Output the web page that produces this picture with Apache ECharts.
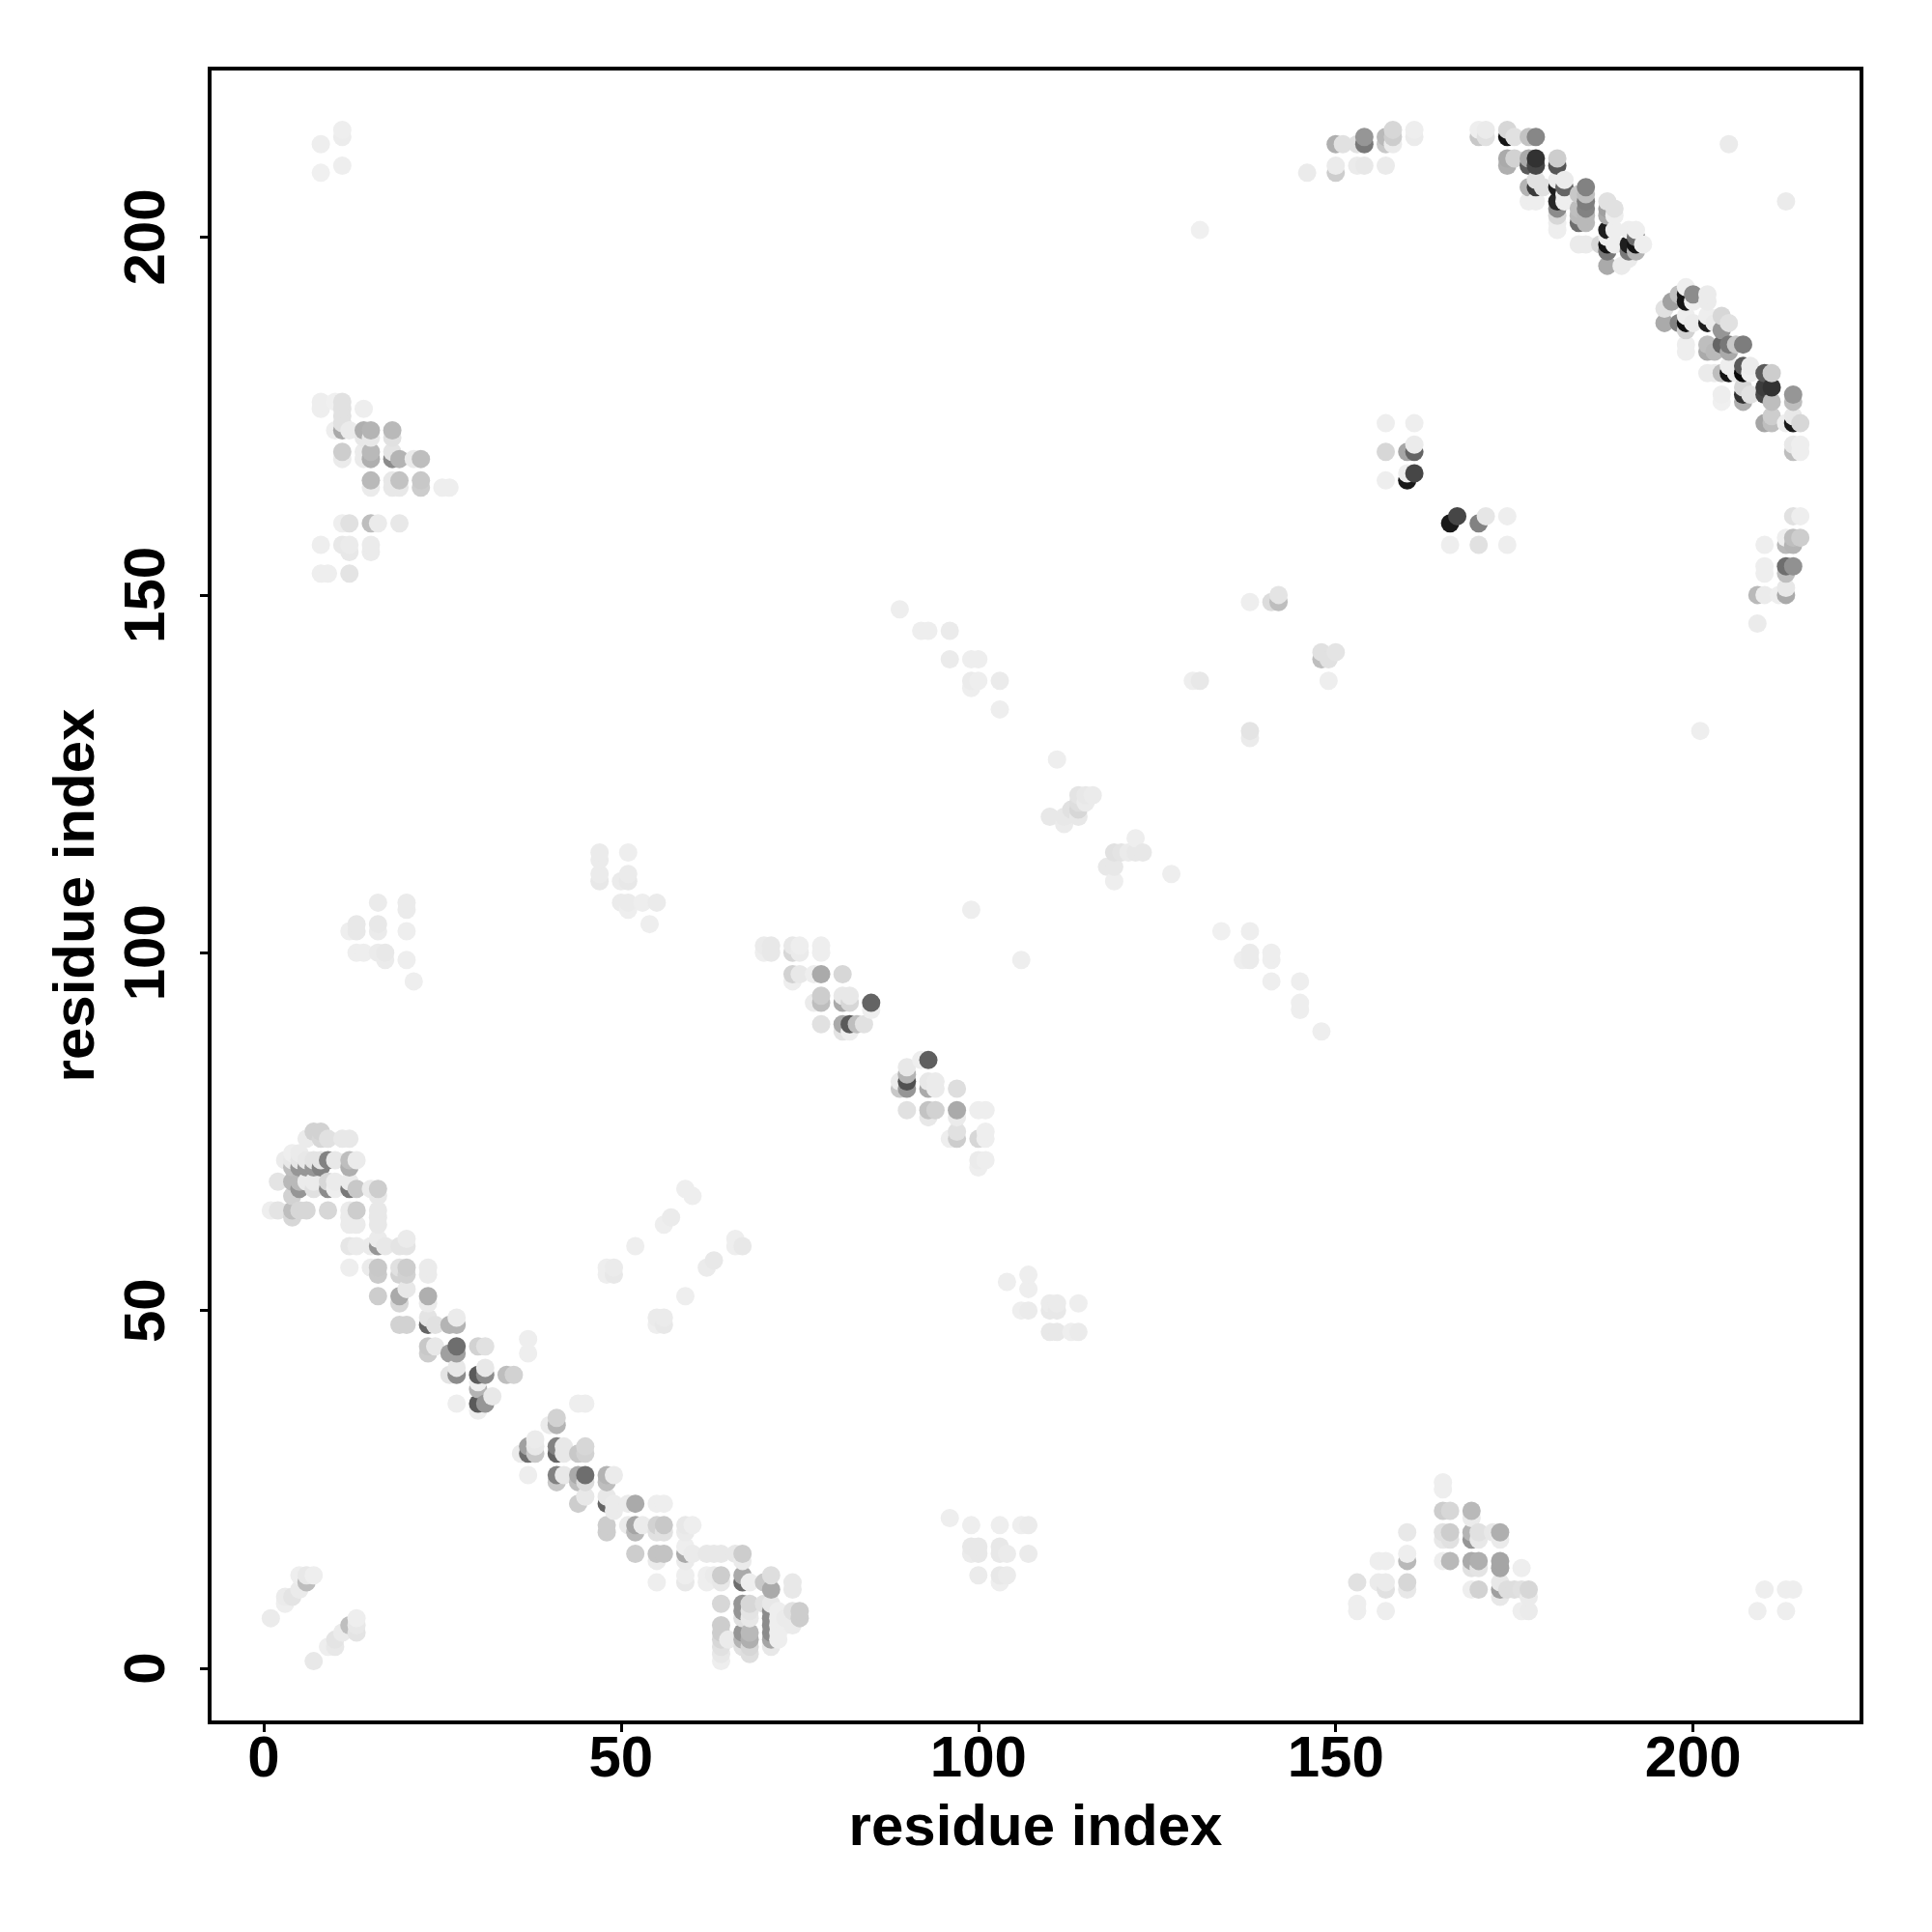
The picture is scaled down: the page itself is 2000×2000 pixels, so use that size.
<!DOCTYPE html>
<html><head><meta charset="utf-8">
<style>html,body{margin:0;padding:0;background:#fff}#c{width:2000px;height:2000px}</style>
<script src="https://cdn.jsdelivr.net/npm/echarts@6/dist/echarts.min.js"></script>
</head><body><div id="c"></div>
<script>
const tickValues=[0,50,100,150,200];
const axisTitle='residue index';
// each entry: residue x, residue y, grey level
const cornerLow=[[1,7,235],[3,9,238],[3,10,235],[4,10,228],[5,11,235],[6,12,190],[5,13,238],[6,13,232],[7,13,238],
[7,1,232],[9,3,238],[10,3,232],[10,4,228],[11,5,235],[13,5,228],[12,6,190],[13,6,232],[13,7,238]];
const diagA=[[7,75,210],[8,75,210],[6,74,235],[8,74,215],[9,74,225],[11,74,232],[12,74,232],
[4,70,190],[5,70,150],[6,70,150],[7,70,150],[8,70,130],[12,70,175],
[3,71,235],[4,72,238],[5,72,235],[4,71,232],[5,71,230],[6,71,232],[7,71,228],[8,71,228],[9,71,130],[10,71,232],[12,71,190],[13,71,235],
[2,68,228],[4,68,185],[5,68,185],[6,68,235],[7,68,235],[9,68,215],[10,68,235],[12,68,235],
[4,66,210],[5,67,150],[7,67,225],[9,67,140],[10,67,238],[12,67,120],[13,67,200],[15,67,235],[16,67,205],[16,66,232],
[1,64,238],[2,64,228],[4,64,190],[4,63,215],[5,64,215],[6,64,215],[9,64,215],[12,64,235],[13,64,205],[16,64,232],
[12,63,235],[13,62,235],[12,62,235],[16,63,232],[16,62,232],
[16,60,235],[20,60,235],[12,59,230],[13,59,235],[15,59,235],[16,59,150],[17,59,232],[19,59,228],[20,59,228],
[12,56,238],[15,56,235],[16,56,200],[19,56,225],[20,56,205],[23,56,235],[16,55,202],[19,55,210],[20,55,210],[23,55,235],
[16,52,205],[19,52,170],[19,51,215],[20,53,232],[23,52,175],[23,51,235],
[19,48,210],[20,48,210],[23,48,100],[23,49,228],[24,48,225],[26,48,180],[27,49,235],[27,48,180],
[23,45,200],[24,45,232],[26,44,160],[27,44,160],[27,45,110],[30,45,210],[31,45,225],[37,46,238],[37,44,238],[23,44,205],
[26,41,228],[27,41,140],[27,42,232],[30,41,90],[31,41,140],[31,42,232],[30,40,238],[34,41,190],[35,41,210],
[27,37,238],[30,39,180],[30,37,90],[31,37,150],[32,38,232],[30,36,238]];
const diagB=[[44,37,238],[45,37,238],[41,35,210],[40,34,235],[41,34,180],[38,32,235],
[37,31,160],[37,30,110],[36,30,235],[38,30,200],[38,31,232],[41,30,100],[41,31,130],[42,31,232],[42,30,232],[44,30,200],[45,31,215],[45,30,210],
[41,26,200],[41,27,130],[42,27,232],[37,27,238],[44,26,190],[44,27,170],[45,26,220],[45,27,110],[48,26,190],[48,27,180],[49,27,235],
[44,23,205],[45,24,232],[48,23,100],[48,24,232],[49,23,235],[49,22,235],[51,23,235],[52,23,170],[55,23,238],[56,23,238],
[48,20,205],[48,19,205],[51,20,235],[52,19,185],[52,20,165],[53,20,235],[55,20,210],[55,19,225],[56,19,225],[56,20,200],[59,20,232],[60,20,238],[59,19,235],
[52,16,205],[55,15,235],[55,16,195],[56,16,195],[59,15,235],[59,16,170],[60,16,235],[59,17,238],[62,16,232],[63,16,232],[64,16,232],[66,16,232],[67,15,235],[67,16,205],
[55,12,238],[59,13,238],[59,12,232],[62,13,238],[62,12,238],[63,13,235],[64,13,205],[64,12,232],[67,13,170],[67,12,110],[68,12,238],[70,12,200],[71,11,170],[71,13,222],[74,12,232],[74,11,232]];
const tail=[[64,9,215],[67,9,150],[67,8,150],[67,7,225],[68,9,215],[67,5,150],[67,4,180],[68,8,228],[68,5,185],[68,4,175],[68,7,232],[68,3,215],[68,2,222],
[64,6,205],[64,5,205],[64,4,215],[65,4,235],[64,3,225],[64,2,232],[64,1,238],[67,3,225],
[71,9,232],[71,8,140],[71,7,140],[71,6,140],[71,5,140],[71,4,165],[70,9,225],[71,3,232],[72,8,238],[72,7,238],[72,6,238],[72,5,238],[72,4,238],
[73,6,238],[73,7,235],[74,8,225],[74,6,235],[75,8,205],[75,7,205]];
const midLow=[[70,101,235],[71,101,232],[74,101,232],[75,101,238],[78,101,238],[70,100,238],[71,100,232],[74,100,215],[75,100,235],[78,100,238],
[74,96,238],[74,97,210],[75,97,232],[77,97,238],[78,97,170],[81,97,215],
[78,94,205],[77,93,235],[78,93,190],[81,93,170],[81,94,232],[82,93,215],[82,94,232],[85,92,238],[85,93,100],
[78,90,225],[81,89,228],[82,89,238],[81,90,170],[82,90,90],[83,90,190],[84,90,225],
[92,85,238],[93,85,95],[90,84,232],[90,83,180],[89,82,235],[89,81,200],[90,81,150],[90,82,80],[93,81,170],[93,82,232],[94,82,235],[94,81,235],[97,81,222],
[90,78,225],[93,77,232],[93,78,195],[94,78,210],[97,77,235],[97,78,170],[100,78,238],[101,78,238],
[97,75,225],[96,74,238],[97,74,205],[100,74,215],[101,74,238],[101,75,238],
[100,70,238],[100,71,235],[101,71,238]];
const leftTop=[[8,213,238],[11,215,238],[11,214,236],[8,209,240],[11,210,238],
[8,177,238],[10,177,240],[8,176,238],[11,177,225],[11,176,225],[11,175,225],[11,174,225],[14,176,238],
[11,173,170],[10,173,238],[12,173,235],[14,172,232],[15,172,232],[14,173,175],[15,173,180],[18,172,225],[18,173,185],
[11,169,235],[11,170,205],[14,169,235],[14,170,235],[15,169,175],[15,170,185],[18,170,228],[18,169,140],[19,169,180],[21,169,235],[22,169,190],
[15,165,235],[15,166,185],[18,165,232],[18,166,232],[19,165,232],[19,166,195],[22,165,205],[22,166,200],[25,165,238],[26,165,238],
[11,160,238],[12,160,225],[15,160,190],[16,160,235],[19,160,232],
[8,157,238],[11,157,232],[12,157,235],[12,156,232],[15,157,235],[15,156,235],
[8,153,238],[9,153,238],[12,153,228]];
const faintA=[[47,114,235],[47,113,235],[47,111,235],[47,110,232],[50,110,235],[51,111,235],[51,110,232],[51,114,238],[50,107,235],[51,107,235],[51,106,238],[53,107,238],[55,107,235],[54,104,238],
[12,103,238],[13,104,232],[13,103,232],[16,107,235],[16,104,232],[16,103,235],[16,100,235],[17,100,232],[13,100,238],[14,100,238],[17,99,235],[20,107,235],[20,106,235],[20,103,238],[20,99,238],[21,96,238],
[96,21,238],[99,20,238],[103,20,238],[106,20,238],[107,20,235],[99,17,232],[100,17,232],[103,17,232],[100,16,232],[103,16,232],[99,16,235],[104,16,235],[107,16,235],[100,13,235],[103,13,232],[104,13,235],[103,12,238],
[48,55,238],[49,56,235],[49,55,232],[48,56,238],[52,59,238],[56,62,238],[57,63,235],[59,67,238],[60,66,238],[55,49,235],[55,48,238],[56,48,232],[56,49,235],[59,52,238],[62,56,235],[63,57,232],[66,60,238],[66,59,238],[67,59,232],
[104,54,238],[107,55,238],[107,53,238],[106,50,238],[107,50,235],[110,51,235],[111,51,235],[110,50,232],[111,50,232],[114,51,238],[110,47,232],[111,47,232],[113,47,238],[114,47,235]];
const lowRight=[[165,26,238],[165,25,238],[165,22,205],[166,22,215],[169,21,235],[169,22,185],
[160,19,232],[165,18,232],[165,19,225],[166,18,225],[166,19,205],[169,18,150],[169,19,180],[170,18,232],[170,19,225],[172,19,232],[173,18,235],[173,19,175],
[160,15,185],[160,16,238],[156,15,238],[157,15,238],[165,15,238],[166,15,185],[169,14,225],[169,15,170],[170,14,228],[170,15,175],[173,14,165],[173,15,165],[176,14,238],
[153,12,225],[156,12,235],[157,12,235],[157,11,225],[160,11,232],[160,12,215],[169,11,238],[170,11,210],[173,11,160],[173,12,232],[174,11,222],[175,11,222],[176,11,225],[177,11,215],[173,10,232],[177,10,235],
[153,9,238],[153,8,238],[157,8,238],[176,8,238],[177,8,235],[210,11,238],[213,11,238],[214,11,238],[209,8,238],[213,8,238]];
const centre=[[89,148,238],[92,145,238],[93,145,238],[96,145,235],[96,141,235],[99,141,238],[100,141,238],[99,138,235],[100,138,238],[99,137,238],[103,138,235],[103,134,238],
[130,138,238],[131,138,232],[138,131,228],[138,130,235],[138,149,238],[141,149,220],[142,149,190],[142,150,228],[148,141,190],[148,142,225],[149,141,225],[150,142,228],[149,138,238],
[111,127,238],[110,119,232],[112,119,232],[112,118,235],[113,120,225],[114,122,228],[114,121,222],[114,120,215],[114,119,232],[115,122,232],[115,121,235],[116,122,235],
[118,112,232],[119,114,225],[119,112,232],[119,110,238],[120,114,228],[121,114,235],[122,116,238],[122,114,232],[123,114,232],[127,111,238],
[99,106,238],[106,99,238],[134,103,240],[138,103,238],[138,100,235],[137,99,238],[138,99,235],[141,100,238],[141,99,238],[141,96,238],[145,96,238],[145,93,238],[145,92,238],[148,89,238],
[205,213,235],[213,205,235],[201,131,238],[131,201,240]];
const arcTop=[[146,209,235],[150,209,205],[150,210,235],[150,213,175],[151,213,225],[153,213,225],[153,210,235],[154,210,232],[154,213,120],[154,214,150],[157,210,235],[157,214,185],[157,213,200],[158,215,215],[158,214,205],[158,213,235],[161,214,235],[161,215,238]];
const arcA=[[170,214,200],[171,214,225],[170,215,238],[171,215,235],[174,215,215],[174,214,20],[175,214,225],[177,214,195],[178,214,135],
[174,210,175],[174,211,170],[175,211,210],[177,210,90],[177,211,170],[178,210,70],[178,211,50],[181,210,85],[181,211,205],
[177,207,180],[178,207,60],[178,208,225],[179,207,225],[177,205,238],[178,205,238],
[181,207,30],[181,208,235],[182,207,100],[182,208,235],[181,205,40],[181,204,140],[182,205,238],[182,206,238],[181,203,215],[181,202,238],[181,201,238],
[184,206,200],[184,204,190],[184,203,185],[184,202,110],[185,202,185],[185,203,185],[185,204,130],[185,205,125],[185,206,190],[185,207,130],
[188,204,160],[188,203,170],[188,201,30],[188,205,225],[189,204,225],[189,203,238],[189,201,238],
[184,199,235],[185,199,235],[187,199,215],[188,198,120],[188,199,20],[188,200,238],[189,199,238],[188,196,170],[190,196,235],[191,197,235],
[191,198,120],[191,199,30],[192,198,180],[192,200,110],[192,199,20],[191,201,238],[192,201,238],[193,199,238]];
const arcB=[[196,190,225],[197,191,160],[198,192,190],[199,191,20],[199,192,20],[199,193,238],[200,191,238],[200,192,140],[202,192,235],[202,191,235],
[196,188,170],[198,188,130],[199,188,15],[199,189,238],[200,188,235],[199,187,210],[202,188,30],[202,189,238],[203,188,235],[204,187,150],[204,189,215],[205,188,225],
[199,185,238],[199,184,238],[202,184,170],[202,185,190],[203,184,185],[204,185,100],[205,184,170],[205,185,120],[206,185,200],[207,185,125],
[202,181,235],[203,181,235],[204,181,190],[205,181,20],[205,182,238],[206,181,238],[207,181,10],[207,182,90],[208,182,235],[208,181,238],[210,181,90],[211,181,205],
[204,178,238],[204,177,240],[207,178,50],[207,179,215],[207,177,175],[208,178,225],
[210,178,70],[210,179,60],[211,177,190],[211,179,50],[214,177,190],[214,178,150],
[210,174,165],[211,174,190],[211,175,205],[213,174,238],[214,174,25],[214,175,232],[215,174,215],[214,170,190],[214,171,232],[215,170,238],[215,171,238]];
const sideGroup=[[157,174,238],[161,174,238],[157,170,215],[160,170,165],[161,170,100],[161,171,235],[157,166,238],[160,166,25],[160,167,238],[161,167,70],
[166,160,25],[167,161,70],[170,160,130],[171,161,230],[174,161,238],[166,157,238],[170,157,225],[174,157,238],
[214,161,225],[215,161,238],[213,158,238],[213,157,185],[214,157,180],[214,158,190],[215,158,205],[210,157,238],[210,154,238],[210,153,238],
[213,153,190],[213,154,110],[214,154,145],[209,150,185],[210,150,235],[212,150,238],[213,150,170],[213,151,232],[209,146,235]];

// the reference overplots column by column, rows ascending
const points=[].concat(cornerLow,diagA,diagB,tail,midLow,leftTop,faintA,lowRight,centre,arcTop,arcA,arcB,sideGroup)
  .sort((a,b)=>a[0]-b[0]||a[1]-b[1]);
const font='"Liberation Sans",Arial,sans-serif';
const axisBase=(rotate,margin)=>({type:'value',min:-7.56,max:223.56,splitLine:{show:false},
  axisLine:{show:false,onZero:false},
  axisTick:{show:true,length:10,lineStyle:{color:'#000',width:3},customValues:tickValues},
  axisLabel:{show:true,customValues:tickValues,color:'#000',fontFamily:font,fontWeight:'bold',fontSize:60,rotate:rotate,margin:margin,hideOverlap:false,showMinLabel:true,showMaxLabel:true,formatter:v=>String(v)},
  name:axisTitle,nameLocation:'middle',nameTextStyle:{color:'#000',fontFamily:font,fontWeight:'bold',fontSize:60}});
const chart=echarts.init(document.getElementById('c'),null,{renderer:'canvas'});
chart.setOption({animation:false,backgroundColor:'#fff',
  grid:{show:true,left:217,right:73,top:71,bottom:217,borderColor:'#000',borderWidth:4,backgroundColor:'transparent',containLabel:false},
  xAxis:Object.assign(axisBase(0,9),{nameGap:80}),
  yAxis:Object.assign(axisBase(90,34),{nameGap:107}),
  series:[{type:'scatter',data:points.map(p=>[p[0],p[1],p[2]]),symbol:'circle',symbolSize:19,progressive:0,silent:true,
    itemStyle:{opacity:1,color:o=>{const g=o.value[2];return `rgb(${g},${g},${g})`;}}}]
});
</script></body></html>
